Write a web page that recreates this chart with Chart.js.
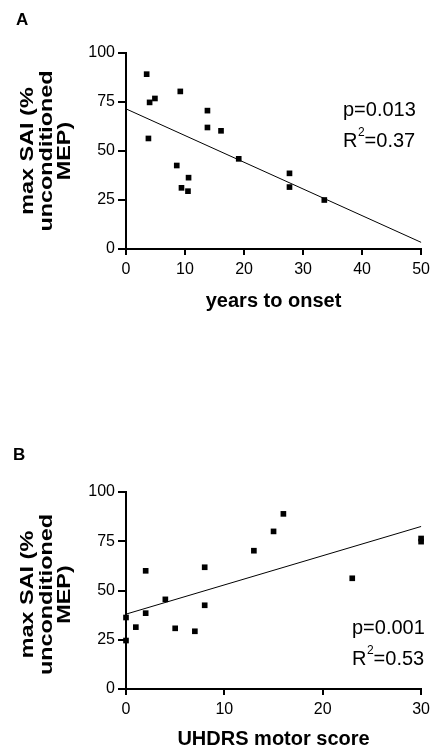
<!DOCTYPE html>
<html>
<head>
<meta charset="utf-8">
<script src="https://cdn.jsdelivr.net/npm/chart.js@4/dist/chart.umd.min.js"></script>
<style>
  html, body { margin: 0; padding: 0; background: #fff; }
  #wrap { position: relative; width: 435px; height: 753px; }
  canvas { position: absolute; left: 0; }
</style>
</head>
<body>
<div id="wrap">
  <canvas id="chartA" width="435" height="330" style="top:0px"></canvas>
  <canvas id="chartB" width="435" height="373" style="top:380px"></canvas>
</div>
<script>
// ---------- Data ----------
// Panel A: years to onset vs max SAI
const yearsToOnset = [3.5, 4.0, 4.9, 3.8, 9.2, 13.8, 13.8, 16.1, 8.6, 9.4, 10.6, 10.5, 19.1, 27.7, 27.7, 33.6];
const saiA        = [89.2, 74.8, 76.8, 56.4, 80.4, 70.6, 62.0, 60.3, 42.6, 31.2, 36.4, 29.5, 46.0, 38.6, 31.6, 25.0];
const fitXA = [0, 50];
const fitYA = [71.5, 3.4];
const statsA = ["p=0.013", "0.37"];

// Panel B: UHDRS motor score vs max SAI
const uhdrsScore = [0, 0, 1, 2, 2, 4, 5, 7, 8, 8, 13, 15, 16, 23, 30, 30];
const saiB       = [36.3, 24.6, 31.4, 60.0, 38.5, 45.5, 30.8, 29.3, 61.8, 42.5, 70.2, 80.0, 88.9, 56.2, 74.8, 76.4];
const fitXB = [0, 30];
const fitYB = [38.0, 82.5];
const statsB = ["p=0.001", "0.53"];

const yTicks = [0, 25, 50, 75, 100];
const yTitle = ["max SAI (%", "unconditioned", "MEP)"];
const xTitleA = "years to onset";
const xTitleB = "UHDRS motor score";

// ---------- Helpers ----------
const FONT = "'Liberation Sans', Arial, Helvetica, sans-serif";
Chart.defaults.font.family = FONT;
Chart.defaults.color = '#000';

function pts(xs, ys) { return xs.map((x, i) => ({ x: x, y: ys[i] })); }

const annot = {
  id: 'annot',
  afterDraw(chart, args, o) {
    const ctx = chart.ctx;
    const area = chart.chartArea;
    ctx.save();
    ctx.fillStyle = '#000';
    ctx.textBaseline = 'alphabetic';
    ctx.textAlign = 'left';
    // panel letter
    ctx.font = 'bold 17px ' + FONT;
    ctx.fillText(o.letter, o.letterX, o.letterY);
    // y axis title (three lines, rotated)
    const cy = (area.top + area.bottom) / 2 + o.titleShift;
    ctx.font = 'bold 18px ' + FONT;
    ctx.textAlign = 'center';
    o.titleLines.forEach((line, i) => {
      ctx.save();
      ctx.translate(o.titleBase[i], cy);
      ctx.rotate(-Math.PI / 2);
      ctx.scale(1.3, 1);
      ctx.fillText(line, 0, 0);
      ctx.restore();
    });
    ctx.textAlign = 'left';
    // stats
    ctx.font = '20px ' + FONT;
    ctx.fillText(o.stats[0], o.sx, o.sy);
    let x = o.sx;
    const y2 = o.sy + 30.5;
    ctx.fillText('R', x, y2);
    x += ctx.measureText('R').width + 0.5;
    ctx.font = '12px ' + FONT;
    ctx.fillText('2', x, y2 - 11);
    x += ctx.measureText('2').width;
    ctx.font = '20px ' + FONT;
    ctx.fillText('=' + o.stats[1], x, y2);
    ctx.restore();
  }
};

function makeChart(id, xs, ys, fx, fy, xMax, xTitle, pad, xAxisH, titlePadB, plug) {
  return new Chart(document.getElementById(id), {
    type: 'scatter',
    data: {
      datasets: [
        {
          data: pts(xs, ys),
          pointStyle: 'rect',
          pointRadius: 4,
          pointHoverRadius: 4,
          backgroundColor: '#000',
          borderColor: '#000',
          borderWidth: 0,
          clip: false
        },
        {
          data: pts(fx, fy),
          showLine: true,
          pointRadius: 0,
          borderColor: '#000',
          borderWidth: 1,
          clip: false
        }
      ]
    },
    options: {
      responsive: false,
      devicePixelRatio: 1,
      animation: false,
      events: [],
      layout: { padding: pad },
      plugins: { legend: { display: false }, tooltip: { enabled: false }, annot: plug },
      scales: {
        x: {
          type: 'linear',
          min: 0, max: xMax,
          afterFit(s) { s.height = xAxisH; },
          ticks: { stepSize: 10, padding: 5, font: { size: 16 }, color: '#000' },
          grid: { drawOnChartArea: false, drawTicks: true, tickLength: 6, color: '#000', lineWidth: 2 },
          border: { display: true, color: '#000', width: 2 },
          title: { display: true, text: xTitle, font: { size: 20, weight: 'bold' }, color: '#000', padding: { top: 0, bottom: titlePadB } }
        },
        y: {
          type: 'linear',
          min: 0, max: 100,
          afterFit(s) { s.width = 126; },
          afterBuildTicks(s) { s.ticks = yTicks.map(v => ({ value: v })); },
          ticks: { padding: 3, font: { size: 16 }, color: '#000' },
          grid: { drawOnChartArea: false, drawTicks: true, tickLength: 8, color: '#000', lineWidth: 2 },
          border: { display: true, color: '#000', width: 2 },
          title: { display: false }
        }
      }
    },
    plugins: [annot]
  });
}

makeChart('chartA', yearsToOnset, saiA, fitXA, fitYA, 50, xTitleA,
  { top: 53, right: 12, left: 0, bottom: 0 }, 81, 17,
  { letter: 'A', letterX: 16, letterY: 25, stats: statsA, sx: 343, sy: 116,
    titleLines: yTitle, titleBase: [33, 51.5, 70], titleShift: 0 });

makeChart('chartB', uhdrsScore, saiB, fitXB, fitYB, 30, xTitleB,
  { top: 112, right: 10, left: 0, bottom: 0 }, 64, 2,
  { letter: 'B', letterX: 13, letterY: 80, stats: statsB, sx: 352, sy: 254,
    titleLines: yTitle, titleBase: [33, 51.5, 70], titleShift: 4 });
</script>
</body>
</html>
